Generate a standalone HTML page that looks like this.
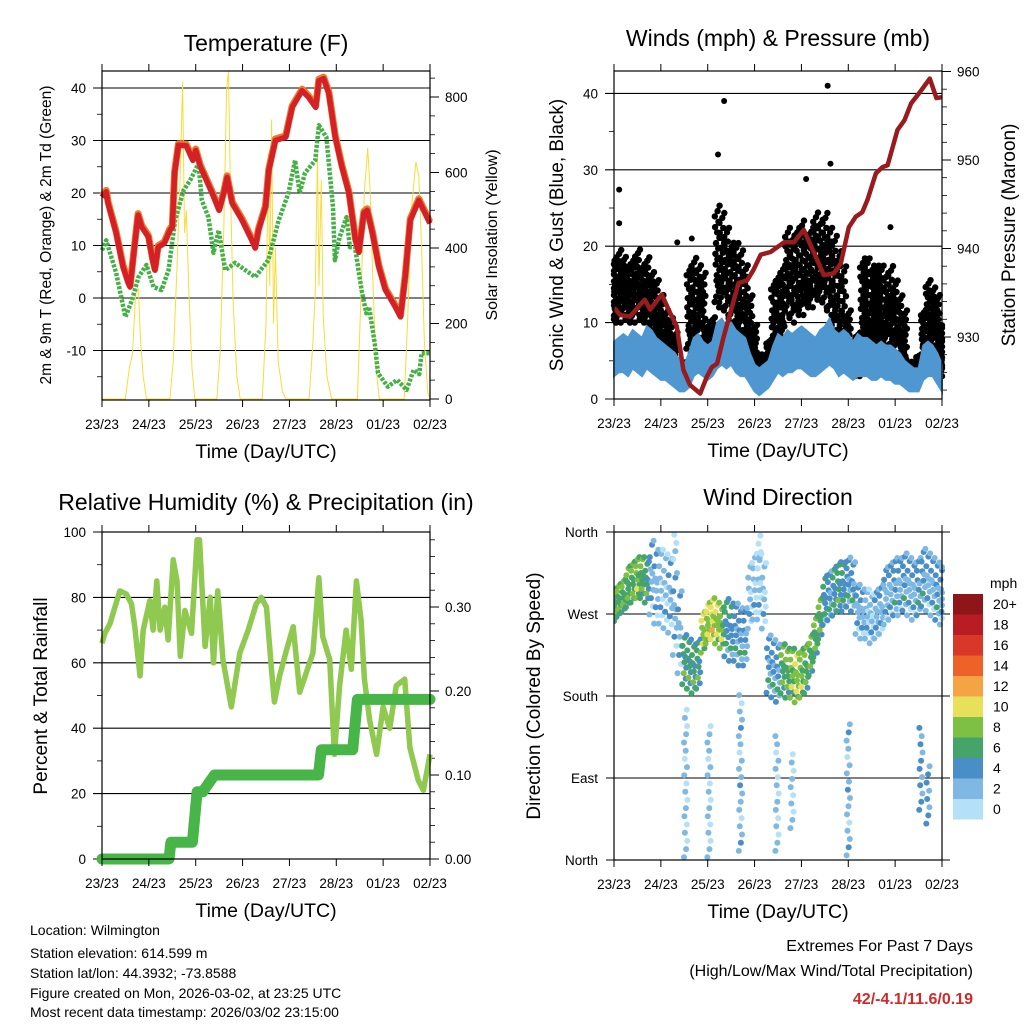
<!DOCTYPE html>
<html><head><meta charset="utf-8">
<style>
html,body{margin:0;padding:0;background:#fff;}
svg{display:block;font-family:"Liberation Sans",Arial,sans-serif;}
</style></head>
<body>
<svg id="chart" width="1024" height="1024" viewBox="0 0 1024 1024" xmlns="http://www.w3.org/2000/svg">
<rect x="0" y="0" width="1024" height="1024" fill="#fff"/>
<g id="p1"></g>
<g id="p2"></g>
<g id="p3"></g>
<g id="p4"></g>
<text x="266" y="51" font-size="23" text-anchor="middle">Temperature (F)</text>
<text x="778" y="46" font-size="23" text-anchor="middle">Winds (mph) &amp; Pressure (mb)</text>
<text x="266" y="510" font-size="23" text-anchor="middle">Relative Humidity (%) &amp; Precipitation (in)</text>
<text x="778" y="505" font-size="23" text-anchor="middle">Wind Direction</text>
<text transform="translate(51,235) rotate(-90)" font-size="15.5" text-anchor="middle">2m &amp; 9m T (Red, Orange) &amp; 2m Td (Green)</text>
<text transform="translate(497,235) rotate(-90)" font-size="16" text-anchor="middle">Solar Insolation (Yellow)</text>
<text transform="translate(563,235) rotate(-90)" font-size="19" text-anchor="middle">Sonic Wind &amp; Gust (Blue, Black)</text>
<text transform="translate(1015,235) rotate(-90)" font-size="19" text-anchor="middle">Station Pressure (Maroon)</text>
<text transform="translate(47,696) rotate(-90)" font-size="19" text-anchor="middle">Percent &amp; Total Rainfall</text>
<text transform="translate(540,696) rotate(-90)" font-size="19" text-anchor="middle">Direction (Colored By Speed)</text>
<g font-size="14">
<text x="30" y="935">Location: Wilmington</text>
<text x="30" y="958">Station elevation: 614.599 m</text>
<text x="30" y="978">Station lat/lon: 44.3932; -73.8588</text>
<text x="30" y="998">Figure created on Mon, 2026-03-02, at 23:25 UTC</text>
<text x="30" y="1017">Most recent data timestamp: 2026/03/02 23:15:00</text>
</g>
<g font-size="16" text-anchor="end">
<text x="973" y="951">Extremes For Past 7 Days</text>
<text x="973" y="976">(High/Low/Max Wind/Total Precipitation)</text>
<text x="973" y="1004" fill="#d02a2a" font-weight="bold">42/-4.1/11.6/0.19</text>
</g>
</svg>
<script>
// ---------- data ----------
const dayLabels = ["23/23","24/23","25/23","26/23","27/23","28/23","01/23","02/23"];
const tempT = [0,0.09,0.13,0.3,0.45,0.56,0.6,0.74,0.77,0.85,0.99,1.08,1.13,1.2,1.33,1.45,1.5,1.55,1.63,1.8,1.94,2.0,2.1,2.35,2.5,2.6,2.67,2.78,2.99,3.2,3.27,3.34,3.49,3.56,3.7,3.92,4.06,4.27,4.41,4.56,4.63,4.73,4.84,4.98,5.12,5.27,5.41,5.48,5.59,5.66,5.77,5.91,6.05,6.26,6.37,6.47,6.58,6.76,7.0];
const tempV = [19.2,20.2,18,12.4,5.9,2.9,2.1,13.5,15.8,13.5,11.6,7.2,5.3,9.7,10.4,12.9,13.5,23.8,29.1,29,26.2,28.1,25,20,16.7,20,23,18,14.8,11,9.5,12.9,17.3,24.3,30,30.6,36.3,39.5,38.2,36.3,41.4,41.8,39,30.6,25,20,11,8.7,16.2,16.7,12.4,5.9,1.5,-1.7,-3.6,4,14.8,18.6,14.2];
const dewT = [0,0.09,0.3,0.5,0.64,0.78,0.95,1.1,1.27,1.42,1.56,1.74,1.88,1.99,2.06,2.13,2.27,2.38,2.49,2.63,2.84,3.06,3.27,3.55,3.77,3.98,4.12,4.22,4.33,4.55,4.63,4.79,4.93,4.97,5.07,5.22,5.29,5.4,5.54,5.64,5.7,5.82,5.89,6.1,6.3,6.5,6.65,6.77,6.82,7.0];
const dewV = [9.1,11,4.8,-3.6,-0.4,4,6.3,2.1,1.5,5.3,14.8,20.5,22.4,24.3,25.7,18.6,15.4,8.6,12.9,5.3,6.7,5.3,4,7.2,14.8,20,26.2,20,23.8,26.2,32.9,30.6,17.3,7.2,11.6,15.4,9.7,9.7,1.5,-2.9,-1.7,-8.6,-14.3,-16.9,-15.6,-17.5,-13.7,-14.5,-10.5,-10.5];
const solarT = [0,0.5,0.58,0.65,0.72,0.78,0.82,0.88,0.95,1.45,1.52,1.6,1.67,1.72,1.76,1.8,1.85,1.92,1.98,2.45,2.52,2.6,2.66,2.7,2.74,2.8,2.88,2.95,3.42,3.5,3.55,3.58,3.62,3.66,3.7,3.76,3.85,3.92,4.42,4.5,4.55,4.6,4.63,4.68,4.72,4.8,4.9,5.45,5.52,5.6,5.67,5.72,5.78,5.85,5.92,6.45,6.52,6.6,6.7,6.76,6.82,6.88,6.95,7.0];
const solarV = [0,0,80,120,280,290,160,60,0,0,100,350,600,840,440,500,300,80,0,0,120,450,820,870,560,250,60,0,0,200,650,300,740,200,400,100,20,0,0,150,280,650,300,580,220,60,0,0,250,550,665,560,320,80,0,0,200,500,628,590,400,150,20,0];
const presT = [0,0.13,0.34,0.55,0.66,0.77,1.02,1.2,1.34,1.48,1.62,1.84,1.98,2.09,2.2,2.34,2.48,2.66,2.84,2.98,3.13,3.34,3.63,3.84,4.05,4.27,4.48,4.69,4.84,5.01,5.16,5.3,5.41,5.59,5.73,5.84,6.05,6.2,6.34,6.52,6.74,6.88,7.0];
const presV = [933.3,932.5,932.3,933.6,934.2,933.1,934.8,932.7,931.2,926.3,924.6,923.6,925.5,926.6,927,930,932.7,936.1,936.4,937.6,939.3,939.6,940.7,940.7,942.1,939.5,937,937.2,938.3,942.4,943.6,944.1,945.5,948.5,949.2,949.4,953.4,954.5,956.4,957.6,959.2,957,957.1];
const windHi = [7.5,8,8.5,8,9,8.5,8,9.5,9,8,7.5, 7,6.5,6,5,4.5, 6,8,8.5,7.5,7, 7.5,10,10.5,9.5,10,9,8.5,8, 6,4.5,4,4.5,5, 7,8.5,8,9,8.5,9,9.5,9,8.5,8,9,9.5,10.5,9,8.5,9,8.5, 7.5,8.5,8,8,7.5, 7,7.5,7,7,6.5,6,5,4.5, 4,4, 7,7.5,7,6,4.5];
const windLo = [3,3.5,3.5,3,4,3.5,3,4,3.5,3,2.5, 2.5,2,1.5,1,1, 1.5,3,3.5,3,2.5, 3,4,4.5,4,4.5,3.5,3,3, 2,1,0.5,1,1.5, 2.5,3.5,3,3.5,3.5,4,4,3.5,3,3,3.5,4,4.5,4,3,3.5,3, 2.5,3,3,3,2.5, 2.5,3,2.5,2.5,2,2,1.5,1, 1,1, 2.5,3,3,2,1];
const gustMax = [19,20,19,18,19,20,18,19,17, 16,14, 12,11,9, 5,5, 18,19,18,17, 10,11, 26,25,23, 21,21,20,18, 14,10, 6,6,8, 16,17,18, 23,22,23,24,22,23, 25,24,25,23,22,20, 18,12, 8,9, 19,19,18,18, 18,17,18,16, 14,12, 5,5,6,12, 16,15,14, 10];
const gustMin = [10,10,11,10,10,11,10,10,9, 7,6, 4,3,3, 2.5,2.5, 6,8,8,7, 5,5, 12,12,11, 10,9,9,8, 5,4, 2.5,2.5,3, 5,6,8, 11,10,11,11,12,12, 13,13,12,11,9,7, 5,4, 3,3, 7,7,7,7, 7,7,6,6, 5,4, 2.5,2.5,2.5,5, 7,7,6, 3];
const gustOutT = [0.11,0.11,2.22,2.35,4.1,4.56,4.62,5.9,1.35,1.66];
const gustOutV = [27.4,23,32,39,28.8,41,30.8,22.5,20.5,21];
const rhT = [0,0.06,0.17,0.38,0.52,0.63,0.7,0.81,0.88,1.02,1.09,1.17,1.24,1.34,1.41,1.52,1.6,1.67,1.77,1.91,2.03,2.08,2.2,2.31,2.38,2.47,2.58,2.76,2.94,3.12,3.29,3.4,3.51,3.61,3.68,3.79,3.94,4.08,4.22,4.36,4.5,4.63,4.71,4.86,4.96,5.07,5.21,5.32,5.43,5.53,5.6,5.71,5.86,6.0,6.14,6.28,6.46,6.57,6.75,6.86,7.0];
const rhV = [66,69,72,82,81,78,71,56,70,79,70,85,70,77,67,91.5,85,62,76,69,97.6,97.6,65,80,60,82,61,46.5,63,70,78,80,77,59,48,56,64,71,51,57,63,86,68,61,32,53,70,58,85,73,55,42.5,32,46.5,40,53,55,34,24,21,32];
const precipT = [0,1.43,1.47,1.93,2.03,2.15,2.4,4.62,4.68,5.35,5.45,7.0];
const precipV = [0,0,0.02,0.02,0.08,0.08,0.10,0.10,0.13,0.13,0.19,0.19];
const dirC = [280,285,290, 300,305,310,310,305, 310,300,300,295,290, 270,250, 220,215,210,215, 250,260,265,260,255, 255,250,250,245,245, 290,300,300,290, 215,210,205, 210,205,205,200,205,210, 225,245,265, 285,290,295,300,300,305,300, 275,270,270,265,270,275, 290,295,300,300,305,300,295,300,310,305,300,295,290];
const dirS = [20,20,20, 25,25,25,25,25, 45,45,45,45,45, 50,50, 30,30,30,30, 25,25,25,25,25, 35,35,35,35,35, 40,40,40,40, 35,35,35, 30,30,30,30,30,30, 25,25,25, 30,30,30,30,30,30,30, 30,30,30,30,30,30, 35,35,35,35,35,35,35,35,35,35,35,35,35];
const dirSpd = [7,7,7, 7,7,8,7,6, 3,3,2,2,3, 3,3, 6,6,6,6, 9,9,10,9,8, 5,5,4,4,4, 2,2,2,2, 4,4,4, 7,7,8,9,8,7, 7,7,7, 5,4,5,6,5,4,4, 3,3,2,2,3,3, 3,3,4,3,4,3,3,4,4,3,3,4,3];
const streakT = [1.53,2.03,2.7,3.48,3.8,5.0,6.55,6.7,1.3,3.1];
const streakLo = [3,3,10,10,35,5,55,40,330,320];
const streakHi = [170,150,185,137,120,150,150,110,360,360];
const streakSpd = [2,2,3,2,2,3,4,4,1,1];
const speedLabels = ["20+","18","16","14","12","10","8","6","4","2","0"];
const speedColors = ["#8e1518","#b81d24","#d9372a","#ee6128","#f5a443","#e6e05a","#7dc043","#45a46a","#4a8ec7","#7fb9e3","#b4e1f7"];

// ---------- helpers ----------
const NS = "http://www.w3.org/2000/svg";
function mk(parent, tag, attrs) {
  const e = document.createElementNS(NS, tag);
  for (const k in attrs) e.setAttribute(k, attrs[k]);
  parent.appendChild(e);
  return e;
}
function lin(d0, d1, r0, r1) { return v => r0 + (v - d0) / (d1 - d0) * (r1 - r0); }
const JX = [-0.45,0.1,0.4,-0.2,0.3,-0.35,0.05,0.45,-0.1,0.2,-0.4,0.35,-0.25,0.0,0.15,-0.3,0.25,-0.05,0.42,-0.15];
const JY = [0.05,0.9,0.35,0.6,0.15,0.75,0.45,0.95,0.25,0.55,0.85,0.0,0.4,0.7,0.2,0.5,0.8,0.3,0.65,0.1];

function frame(g, b, name) {
  const xs = lin(0, 7, b.x0, b.x1);
  for (let i = 0; i < 8; i++) {
    const x = xs(i);
    const t1 = mk(g, "line", {x1:x, x2:x, y1:b.y1, y2:b.y1+7, stroke:"#000", "stroke-width":1});
    
    
    const t2 = mk(g, "line", {x1:x, x2:x, y1:b.y0, y2:b.y0-7, stroke:"#000", "stroke-width":1});
    
    
    const tx = mk(g, "text", {x:x, y:b.y1+29, "font-size":13.5, "text-anchor":"middle"});
    tx.textContent = dayLabels[i];
    
    
  }
  const at = mk(g, "text", {x:(b.x0+b.x1)/2, y:b.y1+58, "font-size":19.5, "text-anchor":"middle"});
  at.textContent = "Time (Day/UTC)";
  
  
}
function border(g, b) {
  const r = mk(g, "rect", {x:b.x0, y:b.y0, width:b.x1-b.x0, height:b.y1-b.y0, fill:"none", stroke:"#000", "stroke-width":1.2});
  
  
}
function yAxis(g, b, ys, ticks, labels, minors, side, gridFrom, gridTo) {
  ticks.forEach((v, i) => {
    const y = ys(v);
    if (gridFrom !== null) {
      const gl = mk(g, "line", {x1:gridFrom, x2:gridTo, y1:y, y2:y, stroke:"#000", "stroke-width":1.1});
      
      
    } else {
      const tk = mk(g, "line", {x1:side<0?b.x0-9:b.x1, x2:side<0?b.x0:b.x1+9, y1:y, y2:y, stroke:"#000", "stroke-width":1});
      
      
    }
    const tx = mk(g, "text", {x:side<0?b.x0-16:b.x1+15, y:y+5, "font-size":13.5, "text-anchor":side<0?"end":"start"});
    tx.textContent = labels[i];
    
    
  });
  minors.forEach(v => {
    const y = ys(v);
    const mt = mk(g, "line", {x1:side<0?b.x0-5:b.x1, x2:side<0?b.x0:b.x1+5, y1:y, y2:y, stroke:"#000", "stroke-width":0.8});
    
    
  });
}
function pts(T, V, xs, ys) { return T.map((t, i) => xs(t).toFixed(1) + "," + ys(V[i]).toFixed(1)).join(" "); }
function range(a, b, s) { const r = []; for (let v = a; v <= b + 1e-9; v += s) r.push(+v.toFixed(4)); return r; }

// ---------- panel 1 ----------
(function(){
  const g = document.getElementById("p1");
  const b = {x0:102, x1:430, y0:71, y1:400};
  const xs = lin(0, 7, b.x0, b.x1);
  const ys = lin(0, 40, 298, 88);
  const ss = lin(0, 800, 399, 97);
  yAxis(g, b, ys, [40,30,20,10,0,-10], ["40","30","20","10","0","-10"], range(-15,40,5).filter(v=>v%10!==0), -1, 93, b.x1);
  yAxis(g, b, ss, [800,600,400,200,0], ["800","600","400","200","0"], range(50,850,50).filter(v=>v%200!==0), 1, null);
  const cp = mk(g, "clipPath", {id:"c1"}); mk(cp, "rect", {x:b.x0, y:b.y0, width:b.x1-b.x0, height:b.y1-b.y0});
  const sl = mk(g, "polyline", {points:pts(solarT, solarV, xs, ss), fill:"none", stroke:"#f8dc3a", "stroke-width":1, "clip-path":"url(#c1)"});
  
  
  const dl = mk(g, "polyline", {points:pts(dewT, dewV, xs, ys), fill:"none", stroke:"#45b046", "stroke-width":4.5, "stroke-dasharray":"3 1.5", "stroke-linejoin":"round"});
  
  
  const ol = mk(g, "polyline", {points:pts(tempT, tempV, xs, ys), fill:"none", stroke:"#f07a2a", "stroke-width":7, "stroke-linejoin":"round", transform:"translate(0,-1.5)"});
  
  
  const rl = mk(g, "polyline", {points:pts(tempT, tempV, xs, ys), fill:"none", stroke:"#d42127", "stroke-width":5.5, "stroke-linejoin":"round"});
  
  
  border(g, b);
  frame(g, b, "temperature");
})();

// ---------- panel 2 ----------
(function(){
  const g = document.getElementById("p2");
  const b = {x0:614, x1:942, y0:71, y1:399};
  const xs = lin(0, 7, b.x0, b.x1);
  const ws = lin(0, 40, 399, 93.4);
  const ps = lin(960, 930, 71.5, 337);
  yAxis(g, b, ws, [40,30,20,10,0], ["40","30","20","10","0"], range(5,40,5).filter(v=>v%10!==0), -1, 605, b.x1);
  yAxis(g, b, ps, [960,950,940,930], ["960","950","940","930"], range(924,960,2).filter(v=>v%10!==0), 1, null);
  const gg = mk(g, "g", {fill:"#000"});
  
  
  gustMax.forEach((mx, i) => {
    const mn = gustMin[i];
    for (let k = 0; k < 20; k++) {
      mk(gg, "circle", {cx:xs(Math.min(7, Math.max(0, i*0.1 + JX[k]*0.12))).toFixed(1), cy:ws(mn + (mx-mn)*JY[k]).toFixed(1), r:3.2});
    }
  });
  gustOutT.forEach((t, i) => {
    const c = mk(gg, "circle", {cx:xs(t), cy:ws(gustOutV[i]), r:3});
    
    
  });
  let up = [], dn = [];
  windHi.forEach((v, i) => { up.push(xs(i*0.1).toFixed(1)+","+ws(v).toFixed(1)); });
  for (let i = windLo.length-1; i >= 0; i--) dn.push(xs(i*0.1).toFixed(1)+","+ws(windLo[i]).toFixed(1));
  const band = mk(g, "polygon", {points:up.concat(dn).join(" "), fill:"#4f97d0", stroke:"#4f97d0", "stroke-width":2});
  
  
  const pl = mk(g, "polyline", {points:pts(presT, presV, xs, ps), fill:"none", stroke:"#9a1b1e", "stroke-width":4.5, "stroke-linejoin":"round"});
  
  
  border(g, b);
  frame(g, b, "winds");
})();

// ---------- panel 3 ----------
(function(){
  const g = document.getElementById("p3");
  const b = {x0:102, x1:430, y0:532, y1:859};
  const xs = lin(0, 7, b.x0, b.x1);
  const rs = lin(0, 100, 859, 532);
  const ps = lin(0, 0.3, 859, 607);
  yAxis(g, b, rs, [100,80,60,40,20,0], ["100","80","60","40","20","0"], range(10,90,20), -1, 93, b.x1);
  yAxis(g, b, ps, [0.3,0.2,0.1,0], ["0.30","0.20","0.10","0.00"], range(0.02,0.38,0.02).filter(v=>Math.abs(v*10-Math.round(v*10))>0.01), 1, null);
  const rl = mk(g, "polyline", {points:pts(rhT, rhV, xs, rs), fill:"none", stroke:"#8fc94f", "stroke-width":5.5, "stroke-linejoin":"round"});
  
  
  const pl = mk(g, "polyline", {points:pts(precipT, precipV, xs, ps), fill:"none", stroke:"#47b548", "stroke-width":11, "stroke-linejoin":"round", "stroke-linecap":"round"});
  
  
  border(g, b);
  frame(g, b, "humidity");
})();

// ---------- panel 4 ----------
(function(){
  const g = document.getElementById("p4");
  const b = {x0:614, x1:942, y0:532, y1:860};
  const xs = lin(0, 7, b.x0, b.x1);
  const ds = lin(0, 360, 860, 532);
  const binColor = s => speedColors[10 - Math.max(0, Math.min(10, Math.floor(s/2)))];
  yAxis(g, b, ds, [360,270,180,90,0], ["North","West","South","East","North"], [], -1, 606, 950);
  const cp = mk(g, "clipPath", {id:"c4"}); mk(cp, "rect", {x:b.x0, y:b.y0-4, width:b.x1-b.x0+3, height:b.y1-b.y0+8});
  const dg = mk(g, "g", {"clip-path":"url(#c4)"});
  
  
  const SV = [0,1.5,-1,0.5,-1.5,1,0,-0.5,2,-1,0.5,1,-2,0];
  dirC.forEach((c, i) => {
    for (let k = 0; k < 10; k++) {
      const d = c + (JY[k]-0.5)*2*dirS[i];
      const s = Math.max(0, dirSpd[i] + SV[k]);
      mk(dg, "circle", {cx:xs(Math.min(7, Math.max(0, i*0.1 + JX[k]*0.1))).toFixed(1), cy:ds(d).toFixed(1), r:3, fill:binColor(s)});
    }
  });
  streakT.forEach((t, i) => {
    let k = 0;
    for (let d = streakLo[i]; d <= streakHi[i]; d += 9) {
      const s = Math.max(0, streakSpd[i] + SV[k % 14]*0.7);
      mk(dg, "circle", {cx:xs(t + JX[k % 14]*0.08).toFixed(1), cy:ds(d).toFixed(1), r:3, fill:binColor(s)});
      k++;
    }
  });
  border(g, b);
  frame(g, b, "direction");
  const cb = mk(g, "g", {});
  
  
  const u = mk(cb, "text", {x:990, y:588, "font-size":14});
  u.textContent = "mph";
  speedColors.forEach((col, i) => {
    const y = 594 + i*20.5;
    const r = mk(cb, "rect", {x:953, y:y, width:30, height:20.5, fill:col});
    
    
    const t = mk(cb, "text", {x:993, y:y+15, "font-size":14});
    t.textContent = speedLabels[i];
    
    
  });
})();
</script>
</body></html>
